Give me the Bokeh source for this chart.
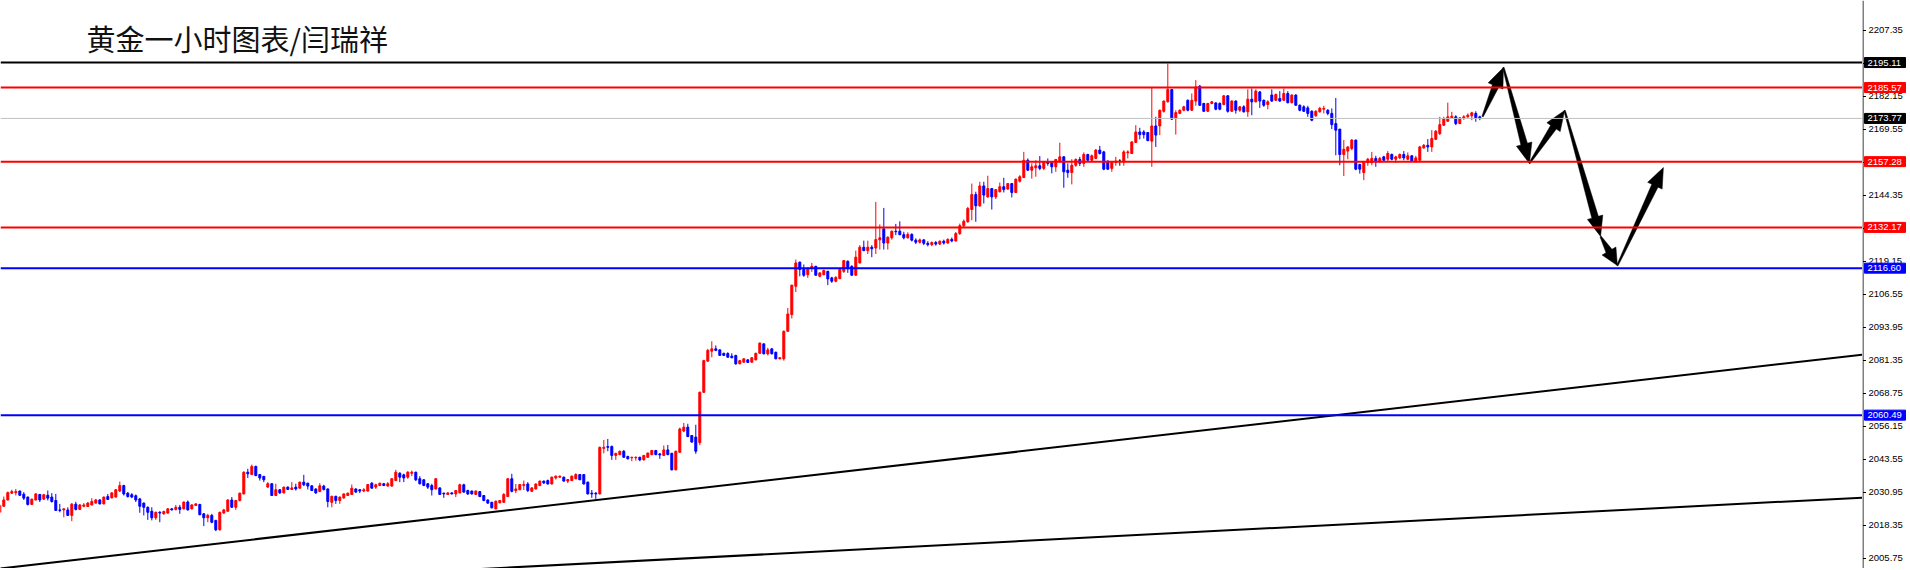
from bokeh.plotting import figure
from bokeh.layouts import row
from bokeh.models import Span, Label, Range1d, ColumnDataSource
from bokeh.core.properties import value
from bokeh.embed import file_html
from bokeh.resources import INLINE

TITLE = "黄金一小时图表/闫瑞祥"

OPEN = [
2023.4, 2025.7, 2028.1, 2030.7, 2030.9, 2031.5, 2030.3, 2029.2, 2026.4, 2028.1,
2030.2, 2028.4, 2029.9, 2029.2, 2027.9, 2024.3, 2024.3, 2024.3, 2022.2, 2026.5,
2024.5, 2025.7, 2025.6, 2026.2, 2026.9, 2028.1, 2026.6, 2029.4, 2028.9, 2029.2,
2031.5, 2033.6, 2030.7, 2030.1, 2029.7, 2028.5, 2026.9, 2025.3, 2023.8, 2021.3,
2023.4, 2022.8, 2023.1, 2024.7, 2024.5, 2025.3, 2024.7, 2027.3, 2024.7, 2026.0,
2026.4, 2022.8, 2021.3, 2022.2, 2020.3, 2016.7, 2023.1, 2023.8, 2028.1, 2025.3,
2027.9, 2030.4, 2038.7, 2037.8, 2040.9, 2037.8, 2037.1, 2033.0, 2034.3, 2029.8,
2032.0, 2030.8, 2033.0, 2032.1, 2033.0, 2032.6, 2034.9, 2034.5, 2033.5, 2032.3,
2031.3, 2033.4, 2032.3, 2027.2, 2029.5, 2027.9, 2028.9, 2029.8, 2030.2, 2032.3,
2032.0, 2031.5, 2031.5, 2034.5, 2033.0, 2033.6, 2034.3, 2033.4, 2033.4, 2035.5,
2038.3, 2037.7, 2036.8, 2038.3, 2038.7, 2036.2, 2035.8, 2034.3, 2033.6, 2032.3,
2032.7, 2030.7, 2030.2, 2030.8, 2030.4, 2030.8, 2033.9, 2031.7, 2031.5, 2030.2,
2031.3, 2029.8, 2028.1, 2027.2, 2024.7, 2027.0, 2027.2, 2029.4, 2036.2, 2031.7,
2032.0, 2033.6, 2034.2, 2031.4, 2032.3, 2033.6, 2035.3, 2035.5, 2034.2, 2036.5,
2036.8, 2036.8, 2035.3, 2035.5, 2036.2, 2037.8, 2037.8, 2034.9, 2030.7, 2030.7,
2030.4, 2047.8, 2048.5, 2048.5, 2045.1, 2045.4, 2046.7, 2044.7, 2044.2, 2044.2,
2044.4, 2043.4, 2044.4, 2045.4, 2047.0, 2045.7, 2045.1, 2047.2, 2045.9, 2039.6,
2046.3, 2054.4, 2055.9, 2052.7, 2052.1, 2050.0, 2069.2, 2081.1, 2084.9, 2085.8,
2085.4, 2084.1, 2084.0, 2083.0, 2083.3, 2080.1, 2080.7, 2081.6, 2080.7, 2081.6,
2084.1, 2087.7, 2083.9, 2085.8, 2084.5, 2082.0, 2082.0, 2092.5, 2098.9, 2109.7,
2118.9, 2116.1, 2114.1, 2116.7, 2117.3, 2113.5, 2114.1, 2115.4, 2112.9, 2111.6,
2112.6, 2115.4, 2119.2, 2117.3, 2113.9, 2118.6, 2124.6, 2123.3, 2124.6, 2124.3,
2127.4, 2131.6, 2126.2, 2128.2, 2130.7, 2130.7, 2129.4, 2128.2, 2129.5, 2127.3,
2126.5, 2127.4, 2126.1, 2125.6, 2126.4, 2125.8, 2126.9, 2126.2, 2127.6, 2127.0,
2129.8, 2132.8, 2134.3, 2139.0, 2144.7, 2140.4, 2148.0, 2143.8, 2147.0, 2143.8,
2145.8, 2147.7, 2146.8, 2148.9, 2145.5, 2149.8, 2151.2, 2157.8, 2154.0, 2154.9,
2155.7, 2154.7, 2157.2, 2157.0, 2155.3, 2157.2, 2159.1, 2154.0, 2153.1, 2155.9,
2158.1, 2156.6, 2160.0, 2157.8, 2158.5, 2161.7, 2161.0, 2157.5, 2154.7, 2157.0,
2157.5, 2157.2, 2160.7, 2160.4, 2164.6, 2168.6, 2168.6, 2168.4, 2165.1, 2170.9,
2170.9, 2176.5, 2180.1, 2184.8, 2173.7, 2175.7, 2176.9, 2180.7, 2176.9, 2180.4,
2186.1, 2179.5, 2176.5, 2179.5, 2179.7, 2179.5, 2179.1, 2182.4, 2176.5, 2180.4,
2176.9, 2178.2, 2176.3, 2181.1, 2180.1, 2183.9, 2180.7, 2179.1, 2182.7, 2180.7,
2181.4, 2180.7, 2183.3, 2179.8, 2182.7, 2178.8, 2178.2, 2177.8, 2176.5, 2174.8,
2176.3, 2177.3, 2176.9, 2175.7, 2171.8, 2169.7, 2160.0, 2161.3, 2162.3, 2165.5,
2156.2, 2153.1, 2156.9, 2156.9, 2158.5, 2157.2, 2159.1, 2158.2, 2160.0, 2158.2,
2158.7, 2160.0, 2158.2, 2159.5, 2157.4, 2157.8, 2162.5, 2163.5, 2162.9, 2165.8,
2168.0, 2171.2, 2172.7, 2174.0, 2174.4, 2171.8, 2173.7, 2174.4, 2174.8, 2175.7,
2174.4]

HIGH = [
2026.3, 2029.4, 2031.3, 2032.0, 2032.3, 2031.7, 2031.1, 2029.4, 2028.6, 2030.7,
2030.4, 2030.4, 2031.7, 2030.7, 2030.4, 2026.6, 2024.9, 2025.3, 2026.9, 2027.4,
2026.5, 2026.9, 2027.3, 2028.8, 2028.5, 2028.4, 2029.4, 2030.4, 2031.1, 2032.3,
2035.1, 2033.9, 2031.1, 2030.7, 2030.2, 2028.9, 2027.1, 2025.6, 2025.3, 2023.6,
2023.8, 2024.0, 2025.0, 2025.0, 2026.2, 2026.2, 2027.5, 2027.9, 2026.5, 2026.9,
2026.6, 2023.1, 2022.8, 2022.8, 2020.5, 2023.6, 2024.7, 2028.4, 2029.2, 2028.1,
2030.9, 2039.0, 2040.0, 2041.6, 2041.2, 2038.0, 2037.3, 2034.9, 2034.5, 2034.3,
2032.2, 2033.2, 2033.3, 2034.9, 2034.3, 2035.1, 2037.7, 2034.7, 2033.7, 2032.5,
2034.5, 2033.9, 2032.5, 2029.7, 2029.7, 2029.4, 2030.6, 2030.9, 2034.0, 2032.5,
2032.2, 2032.6, 2034.2, 2034.9, 2034.3, 2034.7, 2034.6, 2034.9, 2036.4, 2039.6,
2038.7, 2038.1, 2039.1, 2039.3, 2038.9, 2037.2, 2036.0, 2034.5, 2034.3, 2036.4,
2032.9, 2030.9, 2031.0, 2031.0, 2031.9, 2034.3, 2034.3, 2032.0, 2031.7, 2031.7,
2031.5, 2030.0, 2028.3, 2027.4, 2027.9, 2028.1, 2030.7, 2036.4, 2038.1, 2034.2,
2034.2, 2035.5, 2034.9, 2033.0, 2034.4, 2035.5, 2035.5, 2035.9, 2037.0, 2037.4,
2037.4, 2037.0, 2036.1, 2037.4, 2038.3, 2038.0, 2038.0, 2035.1, 2031.9, 2031.1,
2048.5, 2051.0, 2051.4, 2048.9, 2046.1, 2046.9, 2047.2, 2045.0, 2044.6, 2044.7,
2044.6, 2045.3, 2046.2, 2047.2, 2047.2, 2045.9, 2048.9, 2049.1, 2046.1, 2046.9,
2055.7, 2057.5, 2057.2, 2052.9, 2056.8, 2069.5, 2081.6, 2085.8, 2088.7, 2087.1,
2085.6, 2084.3, 2084.5, 2084.1, 2083.5, 2081.6, 2082.2, 2081.8, 2082.6, 2084.3,
2088.2, 2087.9, 2086.2, 2086.0, 2084.7, 2082.6, 2092.8, 2101.4, 2110.3, 2119.9,
2119.1, 2118.0, 2117.0, 2118.6, 2117.5, 2115.0, 2116.1, 2115.6, 2113.3, 2113.5,
2116.3, 2119.7, 2119.6, 2117.7, 2123.3, 2125.4, 2127.1, 2127.1, 2125.4, 2141.9,
2133.3, 2139.6, 2128.8, 2131.0, 2133.5, 2134.5, 2130.5, 2130.3, 2129.9, 2128.0,
2127.9, 2127.7, 2126.9, 2126.8, 2127.0, 2127.2, 2127.5, 2128.0, 2128.3, 2130.4,
2133.6, 2135.2, 2140.0, 2148.9, 2145.8, 2149.6, 2149.6, 2151.9, 2147.2, 2146.8,
2149.3, 2151.1, 2149.1, 2149.1, 2150.8, 2152.1, 2161.0, 2158.5, 2156.6, 2157.8,
2159.4, 2157.4, 2158.5, 2157.2, 2158.3, 2164.5, 2159.4, 2156.6, 2158.2, 2158.5,
2159.1, 2160.8, 2160.3, 2160.0, 2162.1, 2163.3, 2161.4, 2157.7, 2157.2, 2159.1,
2158.2, 2161.6, 2161.6, 2165.0, 2171.2, 2170.2, 2169.3, 2168.6, 2185.4, 2174.4,
2177.1, 2180.6, 2194.7, 2185.0, 2176.9, 2177.2, 2178.6, 2181.0, 2183.3, 2188.4,
2186.5, 2179.7, 2179.7, 2180.4, 2179.9, 2179.9, 2182.7, 2182.7, 2180.7, 2180.7,
2178.5, 2178.8, 2184.9, 2185.2, 2184.9, 2184.2, 2181.0, 2180.7, 2184.9, 2183.3,
2184.2, 2185.2, 2184.2, 2183.0, 2183.0, 2179.1, 2178.8, 2178.6, 2176.9, 2176.9,
2178.2, 2178.6, 2177.3, 2177.6, 2181.6, 2169.7, 2165.5, 2163.1, 2165.9, 2165.7,
2156.4, 2157.4, 2158.7, 2161.0, 2159.5, 2159.1, 2159.5, 2161.3, 2160.4, 2159.5,
2160.4, 2161.3, 2160.8, 2159.7, 2159.5, 2163.3, 2164.0, 2165.9, 2169.3, 2169.3,
2174.4, 2174.4, 2179.8, 2176.3, 2175.0, 2174.2, 2175.0, 2175.7, 2176.3, 2176.5,
2174.8]

LOW = [
2023.0, 2025.6, 2027.9, 2030.4, 2029.8, 2029.6, 2028.1, 2026.0, 2026.2, 2027.9,
2027.3, 2028.1, 2027.9, 2027.1, 2023.9, 2023.4, 2021.5, 2022.0, 2020.0, 2024.1,
2024.3, 2025.3, 2025.4, 2026.0, 2026.7, 2026.4, 2026.4, 2028.1, 2028.7, 2029.0,
2031.1, 2029.8, 2029.0, 2028.8, 2027.3, 2023.2, 2022.2, 2020.5, 2020.3, 2020.5,
2019.6, 2022.5, 2022.8, 2024.1, 2024.1, 2022.8, 2024.5, 2024.1, 2024.5, 2025.8,
2022.2, 2018.1, 2019.6, 2019.2, 2016.2, 2016.4, 2022.8, 2023.6, 2025.1, 2024.3,
2027.5, 2030.2, 2036.5, 2037.7, 2037.2, 2035.5, 2034.9, 2032.9, 2029.6, 2029.6,
2030.4, 2030.6, 2031.9, 2031.9, 2031.7, 2032.4, 2033.4, 2032.1, 2031.5, 2030.4,
2031.1, 2031.7, 2025.3, 2025.3, 2026.6, 2026.6, 2028.5, 2029.6, 2030.0, 2030.9,
2030.7, 2031.1, 2031.3, 2032.4, 2032.3, 2033.4, 2033.4, 2033.2, 2033.2, 2035.3,
2034.9, 2034.9, 2036.2, 2037.2, 2035.3, 2034.0, 2033.4, 2032.3, 2029.8, 2032.1,
2030.0, 2028.9, 2030.0, 2030.2, 2029.2, 2030.6, 2030.9, 2030.0, 2030.2, 2030.0,
2029.2, 2027.6, 2026.6, 2024.9, 2024.5, 2026.8, 2027.0, 2029.2, 2031.0, 2030.7,
2031.8, 2031.9, 2031.1, 2031.1, 2032.1, 2033.4, 2034.2, 2034.0, 2034.0, 2035.9,
2036.6, 2035.1, 2034.5, 2035.3, 2036.0, 2035.7, 2034.0, 2030.2, 2028.9, 2028.5,
2030.2, 2045.9, 2046.7, 2043.4, 2043.4, 2045.2, 2044.2, 2043.6, 2042.9, 2043.1,
2042.9, 2043.2, 2044.2, 2045.2, 2045.2, 2043.8, 2044.9, 2045.2, 2039.4, 2039.4,
2046.1, 2054.0, 2052.1, 2050.0, 2045.7, 2049.0, 2069.0, 2080.9, 2082.6, 2084.9,
2083.1, 2083.1, 2082.4, 2082.2, 2079.7, 2079.9, 2080.5, 2080.4, 2080.5, 2081.4,
2083.9, 2083.7, 2083.3, 2083.7, 2081.8, 2081.8, 2081.3, 2092.3, 2097.4, 2107.5,
2113.5, 2113.3, 2112.9, 2115.2, 2113.7, 2113.1, 2113.9, 2110.1, 2111.0, 2111.2,
2112.4, 2114.8, 2114.8, 2113.7, 2113.7, 2118.4, 2123.1, 2122.0, 2120.8, 2122.0,
2123.7, 2123.7, 2123.7, 2127.5, 2129.2, 2129.2, 2127.6, 2127.9, 2126.8, 2125.8,
2126.0, 2125.4, 2124.9, 2125.0, 2125.2, 2125.4, 2125.6, 2125.9, 2126.5, 2126.7,
2129.3, 2132.3, 2134.0, 2134.9, 2134.3, 2140.0, 2141.3, 2143.6, 2139.0, 2143.0,
2145.5, 2145.5, 2146.6, 2143.6, 2145.3, 2149.3, 2151.0, 2153.8, 2150.8, 2151.5,
2154.0, 2154.0, 2155.7, 2152.8, 2153.4, 2157.0, 2147.3, 2151.1, 2148.6, 2155.3,
2155.6, 2155.3, 2157.6, 2157.5, 2158.2, 2160.0, 2154.0, 2154.1, 2153.4, 2155.7,
2155.7, 2155.7, 2158.5, 2160.2, 2164.4, 2165.8, 2166.1, 2165.1, 2155.3, 2162.9,
2167.4, 2176.0, 2179.9, 2173.3, 2167.6, 2175.4, 2176.5, 2176.5, 2176.7, 2178.6,
2178.6, 2176.3, 2176.3, 2179.2, 2176.9, 2176.9, 2178.8, 2176.0, 2176.3, 2175.6,
2176.3, 2176.0, 2174.4, 2175.0, 2179.9, 2177.8, 2178.2, 2177.3, 2180.1, 2180.4,
2180.1, 2180.4, 2179.5, 2179.5, 2178.6, 2176.5, 2176.3, 2174.4, 2172.7, 2174.4,
2176.0, 2175.7, 2175.0, 2169.7, 2159.7, 2155.9, 2151.8, 2158.2, 2161.6, 2154.0,
2152.7, 2150.2, 2155.7, 2155.9, 2155.3, 2156.9, 2157.4, 2157.2, 2157.8, 2156.9,
2158.2, 2157.8, 2157.8, 2157.2, 2156.9, 2157.4, 2162.2, 2161.0, 2161.0, 2165.5,
2167.4, 2170.9, 2172.5, 2173.7, 2171.2, 2171.6, 2173.3, 2174.0, 2173.1, 2172.5,
2173.1]

CLOSE = [
2026.0, 2028.1, 2030.9, 2031.3, 2031.3, 2029.9, 2028.8, 2026.4, 2028.4, 2030.4,
2028.1, 2030.1, 2028.8, 2027.5, 2024.1, 2024.1, 2024.7, 2022.2, 2026.5, 2024.5,
2026.2, 2026.2, 2026.9, 2027.5, 2028.1, 2026.6, 2029.2, 2028.3, 2030.8, 2032.0,
2033.6, 2030.4, 2029.4, 2029.2, 2028.1, 2025.7, 2025.3, 2023.4, 2021.3, 2023.4,
2023.1, 2023.7, 2024.7, 2024.3, 2025.3, 2024.5, 2027.3, 2024.3, 2026.2, 2026.6,
2022.5, 2021.3, 2022.2, 2019.6, 2016.7, 2023.4, 2024.3, 2028.1, 2025.3, 2027.9,
2030.7, 2038.7, 2038.1, 2040.9, 2037.4, 2036.5, 2035.8, 2034.3, 2029.8, 2032.0,
2030.8, 2033.0, 2032.1, 2032.7, 2032.3, 2034.9, 2033.9, 2033.4, 2031.7, 2030.8,
2033.5, 2032.1, 2027.5, 2029.5, 2027.9, 2029.2, 2030.4, 2030.7, 2032.6, 2031.1,
2031.5, 2032.0, 2034.0, 2032.6, 2033.9, 2034.5, 2033.6, 2034.3, 2036.2, 2038.7,
2036.8, 2036.5, 2038.7, 2038.7, 2035.8, 2034.3, 2033.6, 2033.0, 2032.0, 2036.2,
2030.2, 2030.4, 2030.8, 2030.4, 2031.7, 2033.9, 2031.1, 2030.4, 2030.4, 2031.5,
2029.4, 2027.9, 2026.9, 2025.1, 2027.6, 2027.9, 2030.2, 2036.2, 2031.4, 2032.3,
2034.0, 2034.0, 2031.7, 2032.7, 2034.2, 2035.3, 2034.6, 2034.2, 2036.8, 2037.2,
2037.2, 2035.3, 2035.9, 2037.2, 2037.8, 2035.8, 2034.2, 2030.4, 2030.4, 2030.4,
2048.2, 2048.2, 2048.2, 2045.1, 2045.9, 2046.7, 2044.4, 2043.8, 2044.4, 2044.4,
2043.4, 2045.1, 2046.0, 2047.0, 2045.4, 2045.3, 2047.2, 2045.4, 2039.6, 2046.7,
2055.2, 2055.9, 2052.3, 2050.2, 2046.7, 2069.2, 2081.3, 2085.2, 2085.8, 2085.2,
2083.3, 2083.3, 2082.6, 2082.4, 2080.1, 2081.3, 2082.0, 2080.6, 2082.4, 2084.1,
2088.0, 2083.9, 2085.4, 2083.9, 2082.0, 2082.4, 2092.5, 2099.1, 2110.1, 2118.6,
2116.1, 2113.9, 2116.5, 2117.3, 2113.9, 2114.8, 2115.7, 2112.5, 2111.6, 2113.1,
2116.1, 2119.5, 2116.4, 2113.9, 2120.8, 2124.6, 2123.3, 2124.6, 2124.0, 2127.5,
2128.2, 2126.2, 2128.4, 2130.7, 2130.5, 2129.4, 2128.2, 2129.5, 2127.3, 2126.5,
2127.4, 2126.1, 2125.6, 2126.4, 2125.8, 2126.9, 2126.2, 2127.6, 2127.0, 2129.8,
2132.8, 2134.5, 2139.4, 2144.7, 2140.4, 2148.0, 2144.5, 2147.0, 2143.8, 2146.6,
2147.7, 2146.6, 2148.9, 2145.5, 2150.6, 2151.5, 2157.8, 2154.0, 2155.3, 2155.7,
2154.7, 2157.2, 2156.6, 2155.3, 2158.1, 2159.1, 2153.4, 2153.1, 2155.9, 2158.1,
2156.6, 2160.0, 2157.8, 2159.5, 2161.7, 2160.4, 2154.4, 2154.4, 2157.0, 2157.5,
2157.5, 2161.0, 2161.0, 2164.8, 2168.6, 2167.6, 2167.6, 2165.3, 2170.9, 2167.4,
2176.9, 2180.4, 2184.8, 2173.5, 2176.0, 2176.9, 2178.2, 2176.9, 2180.7, 2185.8,
2178.8, 2176.5, 2179.5, 2180.1, 2177.3, 2177.3, 2182.4, 2176.5, 2180.4, 2176.9,
2178.2, 2176.3, 2181.1, 2180.1, 2184.2, 2180.4, 2178.8, 2180.1, 2180.4, 2182.9,
2180.4, 2183.3, 2179.8, 2182.7, 2178.8, 2176.9, 2176.5, 2175.7, 2173.1, 2176.5,
2177.6, 2177.6, 2175.7, 2171.4, 2169.3, 2160.0, 2162.0, 2162.9, 2165.5, 2154.4,
2154.4, 2157.2, 2158.2, 2158.5, 2157.2, 2158.5, 2157.8, 2160.4, 2158.2, 2159.1,
2160.0, 2158.7, 2159.5, 2157.4, 2158.7, 2162.9, 2163.5, 2162.9, 2166.1, 2168.9,
2171.4, 2173.7, 2174.4, 2174.6, 2171.8, 2174.0, 2174.4, 2175.0, 2175.9, 2174.0,
2173.8]

# horizontal price levels and their colours
LEVELS = [2195.11, 2185.57, 2173.77, 2157.28, 2132.17, 2116.60, 2060.49]
LEVEL_COLORS = ["#000000", "#ff0000", "#c0c0c0", "#ff0000", "#ff0000", "#0000ff", "#0000ff"]
TAG_COLORS = ["#000000", "#ff0000", "#000000", "#ff0000", "#ff0000", "#0000ff", "#0000ff"]

# right price-scale tick labels
TICKS = [2005.75, 2018.35, 2030.95, 2043.55, 2056.15, 2068.75, 2081.35, 2093.95,
         2106.55, 2119.15, 2131.75, 2144.35, 2156.95, 2169.55, 2182.15, 2194.75, 2207.35]

# trend lines (bar index, price)
TREND1_X = [0.0, 465.7]
TREND1_P = [2001.9, 2083.6]
TREND2_X = [117.9, 465.7]
TREND2_P = [2001.55, 2029.0]

# projected path of arrows (bar index, price)
ARROW_X = [370.7, 375.9, 382.4, 391.2, 400.2, 404.4, 415.9]
ARROW_P = [2174.5, 2193.2, 2156.6, 2176.8, 2128.7, 2117.6, 2155.0]

YR = Range1d(2001.93, 2218.80)

n = min(len(OPEN), len(HIGH), len(LOW), len(CLOSE))
colors = []
for o, c in zip(OPEN[:n], CLOSE[:n]):
    colors.append("#ff0000" if c > o else ("#0000ff" if c < o else "#000000"))
src = ColumnDataSource(dict(
    x=list(range(n)), h=HIGH[:n], l=LOW[:n],
    top=[max(a, b) for a, b in zip(OPEN[:n], CLOSE[:n])],
    bot=[min(a, b) for a, b in zip(OPEN[:n], CLOSE[:n])],
    color=colors))

p = figure(width=1862, height=568,
           x_range=Range1d(0.175, 465.675), y_range=YR,
           x_axis_location=None, y_axis_location=None,
           output_backend="svg", toolbar_location=None,
           min_border_left=0, min_border_right=0, min_border_top=0, min_border_bottom=0,
           background_fill_color="white", border_fill_color="white")
p.outline_line_color = None
p.grid.visible = False

# candles
p.segment(x0="x", y0="l", x1="x", y1="h", color="color", line_width=1, source=src)
p.vbar(x="x", width=0.5, top="top", bottom="bot", fill_color="color",
       line_color="color", line_width=1, source=src)

# trend lines
p.line(TREND1_X, TREND1_P, line_color="black", line_width=2)
p.line(TREND2_X, TREND2_P, line_color="black", line_width=2)

# arrows, shaped in the chart's pixel space
def to_px(i, pr):
    return 4 * i - 0.7, 30 + (2207.35 - pr) * 2.619

def from_px(x, y):
    return (x + 0.7) / 4, 2207.35 - (y - 30) / 2.619

axs, ays = [], []
for k in range(len(ARROW_X) - 1):
    sx, sy = to_px(ARROW_X[k], ARROW_P[k])
    ex, ey = to_px(ARROW_X[k + 1], ARROW_P[k + 1])
    dx, dy = ex - sx, ey - sy
    L = (dx * dx + dy * dy) ** 0.5
    ux, uy = dx / L, dy / L
    nx, ny = -uy, ux
    hl = min(20.0, L * 0.5)
    bx, by = ex - ux * hl, ey - uy * hl
    pts = [(sx + nx * 0.7, sy + ny * 0.7), (bx + nx * 3.4, by + ny * 3.4),
           (bx + nx * 8.0, by + ny * 8.0), (ex, ey),
           (bx - nx * 8.0, by - ny * 8.0), (bx - nx * 3.4, by - ny * 3.4),
           (sx - nx * 0.7, sy - ny * 0.7)]
    conv = [from_px(a, b) for a, b in pts]
    axs.append([c[0] for c in conv])
    ays.append([c[1] for c in conv])
p.patches(axs, ays, fill_color="black", line_color="black", line_width=0.5)

# horizontal levels
for lv, col in zip(LEVELS, LEVEL_COLORS):
    p.add_layout(Span(location=lv, dimension="width", line_color=col,
                      line_width=1 if col == "#c0c0c0" else 2))

# title
p.add_layout(Label(x=21.7, y=2204.3, text=TITLE, text_font="Noto Sans CJK SC",
                   text_font_size="29px", text_color="#111111",
                   text_align="left", text_baseline="middle"))

# price scale strip on the right (shares the price range)
s = figure(width=46, height=568, x_range=Range1d(0, 46), y_range=YR,
           x_axis_location=None, y_axis_location=None,
           output_backend="svg", toolbar_location=None,
           min_border_left=0, min_border_right=0, min_border_top=0, min_border_bottom=0,
           background_fill_color="white", border_fill_color="white")
s.outline_line_color = None
s.grid.visible = False
s.segment(x0=[0.5], y0=[YR.start], x1=[0.5], y1=[YR.end], line_color="black", line_width=1)
s.segment(x0=[0.5] * len(TICKS), y0=TICKS, x1=[3.5] * len(TICKS), y1=TICKS,
          line_color="black", line_width=1)
s.text(x=[6] * len(TICKS), y=TICKS, text=[f"{t:.2f}" for t in TICKS],
       text_font=value("Liberation Sans"), text_font_size=value("9.5px"),
       text_color="black", text_baseline="middle", text_align="left")
s.rect(x=[22.5] * len(LEVELS), y=LEVELS, width=41, height=10,
       width_units="screen", height_units="screen",
       fill_color=TAG_COLORS, line_color=TAG_COLORS)
s.text(x=[5] * len(LEVELS), y=LEVELS, text=[f"{lv:.2f}" for lv in LEVELS],
       text_font=value("Liberation Sans"), text_font_size=value("9.5px"),
       text_color="white", text_baseline="middle", text_align="left")

layout = row(p, s, spacing=0)
open("out.html", "w").write(file_html(layout, INLINE))
